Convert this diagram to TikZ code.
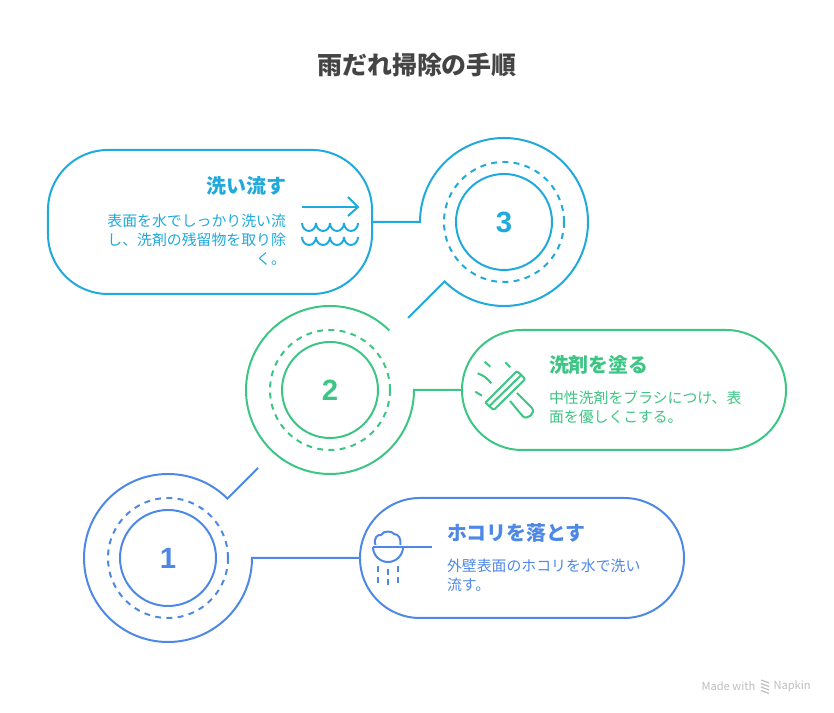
\documentclass[tikz,border=0pt]{standalone}
\usepackage{fontspec}
\setmainfont{Noto Sans CJK JP}
\newfontfamily\numfont{Liberation Sans}
\usetikzlibrary{positioning}
\definecolor{skyc}{HTML}{1FA9DC}
\definecolor{mintc}{HTML}{3CC583}
\definecolor{bluec}{HTML}{4E88E7}
\definecolor{titlec}{HTML}{444444}
\definecolor{napkinc}{HTML}{BDBDBD}
\tikzset{
  stepbox/.style={draw,rounded corners=1.8cm,minimum width=9.72cm,minimum height=3.6cm,outer sep=0pt,inner sep=0pt},
  numcirc/.style={draw,circle,minimum size=2.88cm,inner sep=0pt,outer sep=0pt,font=\fontsize{25}{25}\selectfont\numfont\bfseries},
  dashcirc/.style={draw,circle,minimum size=3.6cm,inner sep=0pt,outer sep=0pt,dash pattern=on 5pt off 4.6pt},
  ringcirc/.style={circle,minimum size=5.04cm,inner sep=0pt,outer sep=0pt},
  headtxt/.style={font=\fontsize{17}{20}\selectfont\bfseries,inner sep=0pt},
  bodytxt/.style={font=\fontsize{12.7}{16}\selectfont,inner sep=0pt},
  every path/.append style={line width=1.7pt}
}
\begin{document}
\begin{tikzpicture}[x=0.03cm,y=0.03cm]
  \useasboundingbox (0,0) rectangle (834,713);
  \node[font=\fontsize{21.3}{25}\selectfont\bfseries,text=titlec] (title) at (417,648) {雨だれ掃除の手順};

  % step 3
  \begin{scope}[color=skyc,text=skyc]
    \node[stepbox,minimum height=4.32cm] (box3) at (210,491) {};
    \node[numcirc] (num3) at (504,491) {3};
    \node[dashcirc] (dash3) at (num3) {};
    \node[ringcirc] (ring3) at (num3) {};
    \coordinate (tail3) at (408,395);
    \draw (box3.east) -- (ring3.west) arc[start angle=180,delta angle=-315,radius=2.52cm] -- (tail3);
    \node[headtxt,anchor=east] (head3) at (287,527) {洗い流す};
    \node[bodytxt,align=right,below=14.5pt of head3.south east,anchor=north east] (body3) {表面を水でしっかり洗い流\\し、洗剤の残留物を取り除\\く。};
    \draw (302,506) -- (358,506);
    \draw (348,516) -- (358,506) -- (348,497);
    \foreach \y in {490,476}
      \foreach \x in {302,316,330,344}
        \draw (\x,\y) arc[start angle=180,end angle=360,x radius=0.21cm,y radius=0.24cm];
  \end{scope}

  % step 2
  \begin{scope}[color=mintc,text=mintc]
    \node[stepbox] (box2) at (624,323) {};
    \node[numcirc] (num2) at (330,323) {2};
    \node[dashcirc] (dash2) at (num2) {};
    \node[ringcirc] (ring2) at (num2) {};
    \draw (box2.west) -- (ring2.east) arc[start angle=0,delta angle=-315,radius=2.52cm];
    \node[headtxt,anchor=west] (head2) at (548,348) {洗剤を塗る};
    \node[bodytxt,align=left,below=12.5pt of head2.south west,anchor=north west] (body2) {中性洗剤をブラシにつけ、表\\面を優しくこする。};
    \draw[rounded corners=1pt] (485.3,310.3) -- (517,342) -- (525.3,334) -- (493.7,303) -- cycle;
    \draw (488.7,306.3) -- (521.3,338);
    \draw (510,312) -- (522.5,297) .. controls (527,292) and (536,300) .. (532,305) -- (517,320);
    \draw (484.7,351.3) -- (490.3,346.3);
    \draw (505.3,350.7) -- (510.3,345.7);
    \draw (477.7,339.7) .. controls (485.3,336.3) .. (491.3,329.7);
    \draw (475.3,321.3) -- (482,317.3);
  \end{scope}

  % step 1
  \begin{scope}[color=bluec,text=bluec]
    \node[stepbox] (box1) at (522,155) {};
    \node[numcirc] (num1) at (168,155) {1};
    \node[dashcirc] (dash1) at (num1) {};
    \node[ringcirc] (ring1) at (num1) {};
    \coordinate (tail1) at (258,245);
    \draw (box1.west) -- (ring1.east) arc[start angle=0,delta angle=-315,radius=2.52cm] -- (tail1);
    \node[headtxt,anchor=west] (head1) at (446,180) {ホコリを落とす};
    \node[bodytxt,align=left,below=12.5pt of head1.south west,anchor=north west] (body1) {外壁表面のホコリを水で洗い\\流す。};
    \draw (373,166) -- (432,166);
    \draw (373,166) arc[start angle=180,end angle=360,radius=0.45cm];
    \draw (375.5,168) .. controls (373,175) and (378,179) .. (381,178) .. controls (384,183) and (392,182) .. (394,179) .. controls (399,179) and (401,174) .. (400.5,168);
    \foreach \x in {378,398} {
      \draw (\x,146.7) -- (\x,141);
      \draw (\x,136) -- (\x,130);
    }
    \draw (388,144.3) -- (388,138.3);
    \draw (388,134.3) -- (388,128.3);
  \end{scope}

  \node[font=\fontsize{9.5}{11}\selectfont,text=napkinc,anchor=west,inner sep=0pt] (made) at (700.5,27) {Made with};
  \node[font=\fontsize{9.5}{11}\selectfont,text=napkinc,anchor=west,inner sep=0pt] (napkin) at (772.5,27) {Napkin};
  \foreach \y in {31,27.5,24,20.5}
    \draw[napkinc,line width=1pt] (761,\y+2) -- (769,\y-1);
\end{tikzpicture}
\end{document}
